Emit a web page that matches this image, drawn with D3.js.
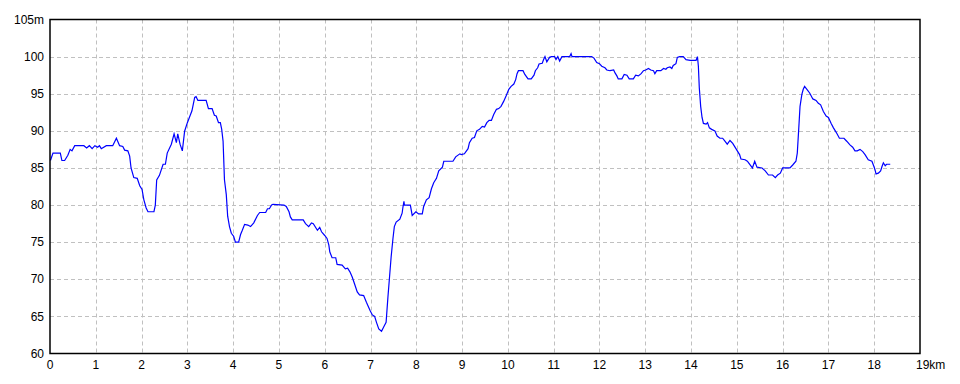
<!DOCTYPE html>
<html><head><meta charset="utf-8">
<script src="https://cdn.jsdelivr.net/npm/d3@7"></script>
<style>body{margin:0;background:#fff}svg{display:block}text{font-family:"Liberation Sans Narrow","Liberation Sans",Arial,sans-serif;font-size:12px;fill:#000}</style>
</head><body><div id="chart"></div>
<script>
const distanceKm = [0.0,0.015,0.065,0.225,0.26,0.32,0.39,0.44,0.48,0.54,0.6,0.68,0.74,0.8,0.86,0.92,0.98,1.04,1.08,1.12,1.23,1.37,1.45,1.52,1.59,1.63,1.70,1.74,1.77,1.83,1.905,1.96,2.01,2.05,2.10,2.14,2.27,2.30,2.33,2.39,2.47,2.52,2.56,2.65,2.71,2.76,2.79,2.84,2.89,2.94,3.0,3.05,3.10,3.16,3.19,3.23,3.41,3.46,3.54,3.59,3.63,3.68,3.72,3.75,3.78,3.81,3.85,3.88,3.92,3.96,4.01,4.05,4.12,4.16,4.2,4.25,4.32,4.38,4.45,4.53,4.58,4.71,4.75,4.79,4.84,4.87,5.11,5.16,5.22,5.25,5.29,5.53,5.58,5.65,5.71,5.75,5.84,5.89,5.93,6.0,6.05,6.09,6.11,6.16,6.24,6.27,6.38,6.45,6.5,6.55,6.6,6.65,6.71,6.76,6.85,6.91,6.99,7.04,7.09,7.13,7.18,7.24,7.29,7.34,7.38,7.41,7.45,7.49,7.52,7.56,7.64,7.69,7.71,7.73,7.74,7.87,7.91,7.99,8.05,8.13,8.16,8.22,8.28,8.33,8.38,8.44,8.49,8.57,8.60,8.80,8.86,8.95,8.98,9.05,9.13,9.16,9.22,9.27,9.32,9.38,9.44,9.49,9.54,9.59,9.64,9.69,9.75,9.80,9.85,9.91,9.96,10.02,10.07,10.13,10.17,10.20,10.23,10.33,10.37,10.44,10.51,10.57,10.60,10.65,10.68,10.75,10.78,10.81,10.85,10.91,10.95,11.02,11.05,11.09,11.13,11.18,11.35,11.38,11.40,11.83,11.88,11.94,12.0,12.05,12.12,12.16,12.23,12.31,12.34,12.38,12.41,12.49,12.54,12.6,12.65,12.74,12.79,12.85,12.91,12.96,13.01,13.07,13.12,13.18,13.21,13.25,13.34,13.40,13.45,13.48,13.54,13.58,13.61,13.67,13.70,13.75,13.83,13.89,13.98,14.11,14.14,14.16,14.18,14.21,14.24,14.27,14.33,14.36,14.4,14.45,14.52,14.57,14.63,14.69,14.74,14.79,14.85,14.91,14.96,15.01,15.06,15.09,15.18,15.23,15.29,15.34,15.39,15.44,15.55,15.62,15.69,15.78,15.84,15.89,15.95,16.0,16.16,16.22,16.29,16.32,16.35,16.38,16.42,16.45,16.48,16.53,16.59,16.66,16.73,16.78,16.83,16.89,16.95,17.0,17.06,17.11,17.17,17.24,17.34,17.4,17.47,17.53,17.58,17.63,17.69,17.75,17.8,17.87,17.95,18.0,18.02,18.04,18.09,18.14,18.17,18.2,18.24,18.27,18.35];
const elevationM = [86.1,86.1,87.0,87.0,86.0,86.0,86.7,87.5,87.3,88.0,88.0,88.0,88.0,87.7,88.0,87.6,88.0,87.8,88.0,87.6,88.0,88.0,89.0,88.0,87.9,87.4,87.3,86.6,85.0,83.7,83.6,82.6,82.1,80.7,79.6,79.1,79.1,80.0,83.4,84.0,85.5,85.5,87.0,88.2,89.6,88.4,89.6,88.2,87.3,89.95,91.1,91.9,92.7,94.5,94.6,94.1,94.1,93.0,93.0,92.1,92.0,91.1,91.1,90.2,88.6,83.4,81.4,78.5,77.1,76.2,75.8,75.0,75.0,76.0,76.6,77.4,77.3,77.1,77.6,78.6,79.0,79.0,79.5,79.5,80.0,80.1,80.0,79.8,79.1,78.4,78.0,78.0,77.5,77.1,77.6,77.5,76.6,77.0,76.4,75.9,75.5,74.6,73.7,72.9,72.9,72.0,71.9,71.4,71.5,71.0,70.3,69.4,68.3,67.9,67.8,66.9,65.8,65.2,65.0,64.2,63.3,63.0,63.6,64.2,67.6,69.9,73.0,75.5,77.1,77.7,78.1,78.9,79.8,80.5,80.0,80.0,78.6,79.1,78.8,78.8,79.8,80.7,81.0,82.2,83.0,83.6,84.6,85.1,85.9,85.9,86.5,86.9,86.8,86.9,87.6,88.4,89.0,89.1,90.0,90.2,90.6,90.5,91.1,91.4,91.4,92.2,92.9,93.0,93.3,94.0,94.7,95.6,96.0,96.3,96.9,97.7,98.1,98.1,97.6,97.0,97.0,97.5,98.1,98.5,99.0,99.1,99.6,100.0,99.3,99.9,100.0,100.0,99.6,100.0,99.4,100.0,100.0,100.4,100.0,100.0,99.8,99.2,99.05,98.7,98.5,98.2,98.1,98.2,97.8,97.4,97.0,97.0,97.6,97.5,97.0,97.0,97.5,97.4,97.7,98.1,98.2,98.4,98.2,98.1,97.7,98.1,98.1,98.4,98.3,98.5,98.6,98.4,98.8,99.05,99.9,100.0,100.0,99.6,99.5,99.5,100.0,98.7,95.8,93.3,91.8,91.0,90.9,91.1,90.4,90.2,90.0,89.3,89.0,89.0,88.6,88.2,88.7,88.3,87.8,87.3,86.8,86.2,86.1,85.9,85.4,85.0,85.9,85.1,85.0,84.6,84.05,84.05,83.7,84.05,84.3,85.0,85.0,85.4,85.9,87.0,90.1,93.3,94.9,95.6,96.0,95.6,95.1,94.3,94.1,93.7,93.5,92.6,92.0,91.8,91.0,90.4,89.8,89.0,89.0,88.6,88.1,87.8,87.3,87.3,87.5,87.2,86.8,86.1,85.9,85.1,84.7,84.2,84.3,84.6,85.2,85.7,85.3,85.5,85.5];
const xTicks = [0,1,2,3,4,5,6,7,8,9,10,11,12,13,14,15,16,17,18,19];
const yTicks = [60,65,70,75,80,85,90,95,100,105];

const W = 960, H = 384;
const m = {left:50, right:40, top:19.5, bottom:30.5};
const svg = d3.select('#chart').append('svg').attr('width',W).attr('height',H);
const x = d3.scaleLinear().domain([0,19]).range([m.left, W-m.right]);
const y = d3.scaleLinear().domain([60,105]).range([H-m.bottom, m.top]);

// grid
svg.append('g').selectAll('line').data(xTicks.slice(1,-1)).join('line')
  .attr('x1',d=>Math.round(x(d))+0.5).attr('x2',d=>Math.round(x(d))+0.5)
  .attr('y1',y(105)).attr('y2',y(60))
  .attr('stroke','#c0c0c0').attr('stroke-dasharray','4,3');
svg.append('g').selectAll('line').data(yTicks.slice(1,-1)).join('line')
  .attr('y1',d=>Math.round(y(d))+0.5).attr('y2',d=>Math.round(y(d))+0.5)
  .attr('x1',x(0)).attr('x2',x(19))
  .attr('stroke','#c0c0c0').attr('stroke-dasharray','4,3');

// data line
const pts = distanceKm.map((d,i)=>[d, elevationM[i]]);
svg.append('path').datum(pts)
  .attr('d', d3.line().x(d=>x(d[0])).y(d=>y(d[1])))
  .attr('fill','none').attr('stroke','#0000ff').attr('stroke-width',1.2);

// frame
svg.append('rect').attr('x',x(0)).attr('y',y(105)).attr('width',x(19)-x(0)).attr('height',y(60)-y(105))
  .attr('fill','none').attr('stroke','#000').attr('stroke-width',1.5);

// axis labels
svg.append('g').selectAll('text').data(yTicks).join('text')
  .attr('x',44).attr('y',d=>y(d)).attr('dy','0.35em').attr('text-anchor','end')
  .text(d=> d===105 ? d+'m' : d);
svg.append('g').selectAll('text').data(xTicks).join('text')
  .attr('x',d=> d===19 ? x(d)-4 : x(d)).attr('y',369)
  .attr('text-anchor',d=> d===19 ? 'start' : 'middle')
  .text(d=> d===19 ? d+'km' : d);
</script></body></html>
